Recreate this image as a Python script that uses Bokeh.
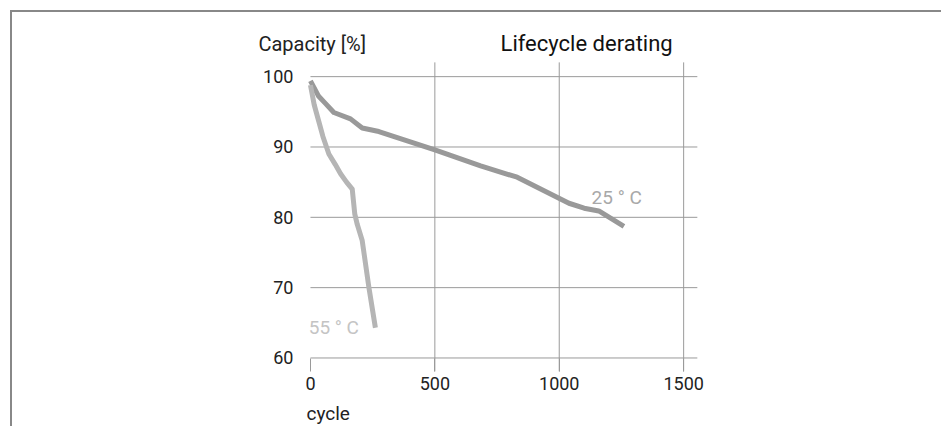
from bokeh.plotting import figure
from bokeh.models import Label, FixedTicker
from bokeh.embed import file_html
from bokeh.resources import INLINE

# ---- data ----
cycles_25 = [0, 33, 60, 94, 161, 208, 275, 500, 684, 831, 1039, 1100, 1159, 1260]
cap_25 = [99.4, 97.2, 96.2, 94.9, 94.0, 92.7, 92.2, 89.6, 87.3, 85.7, 82.0, 81.3, 80.9, 78.7]

cycles_55 = [0, 15, 33, 50, 74, 100, 121, 145, 168, 178, 188, 208, 235, 261]
cap_55 = [98.8, 96.0, 93.7, 91.5, 89.0, 87.5, 86.2, 85.0, 84.0, 80.5, 79.0, 76.7, 70.0, 64.3]

x_ticks = [0, 500, 1000, 1500]
x_grid = [500, 1000, 1500]
y_ticks = [60, 70, 80, 90, 100]

# plotting-area extents (data units)
GX0, GX1 = 0, 1555
GY0, GY1 = 58.09, 102.03

FONT = "Roboto"
GRID = "#9a9a9a"

p = figure(
    frame_width=463, frame_height=403,
    x_range=(-241, 1620), y_range=(50.4, 107.7),
    output_backend="svg", toolbar_location=None,
    min_border_left=238, min_border_top=10,
    min_border_right=228, min_border_bottom=1,
    background_fill_color=None, border_fill_color="white",
    outline_line_color=None,
)
p.margin = (10, 0, 0, 10)
p.styles = {"border-top": "2px solid #888888", "border-left": "2px solid #888888"}
p.grid.visible = False

# grid lines limited to the plotting area
p.segment(x0=x_grid, y0=[GY0] * len(x_grid), x1=x_grid, y1=[GY1] * len(x_grid),
          line_color=GRID, line_width=1)
p.segment(x0=[GX0] * len(y_ticks), y0=y_ticks, x1=[GX1] * len(y_ticks), y1=y_ticks,
          line_color=GRID, line_width=1)

# x axis at the bottom of the plotting area
p.xaxis.fixed_location = GY0
p.xaxis.ticker = FixedTicker(ticks=x_ticks)
p.xaxis.axis_line_color = None
p.xaxis.major_tick_in = 13
p.xaxis.major_tick_out = 0
p.xaxis.major_tick_line_color = GRID
p.xaxis.minor_tick_line_color = None
p.xaxis.major_label_standoff = 6
p.xaxis.major_label_text_font = FONT
p.xaxis.major_label_text_font_size = "18px"
p.xaxis.major_label_text_color = "#222222"

# y axis at x = 0
p.yaxis.fixed_location = GX0
p.yaxis.ticker = FixedTicker(ticks=y_ticks)
p.yaxis.axis_line_color = None
p.yaxis.major_tick_line_color = None
p.yaxis.minor_tick_line_color = None
p.yaxis.major_tick_in = 0
p.yaxis.major_tick_out = 0
p.yaxis.major_label_standoff = 17
p.yaxis.major_label_text_font = FONT
p.yaxis.major_label_text_font_size = "18px"
p.yaxis.major_label_text_color = "#222222"

# curves
p.line(cycles_25, cap_25, line_color="#999999", line_width=5, line_join="round")
p.line(cycles_55, cap_55, line_color="#b5b5b5", line_width=5, line_join="round")

# texts
def lab(x, y, text, size, color, **kw):
    p.add_layout(Label(x=x, y=y, text=text, text_font=FONT, text_font_size=size,
                       text_color=color, text_baseline="alphabetic", **kw))

lab(-209, 104.69, "Capacity [%]", "20px", "#222222")
lab(764, 104.69, "Lifecycle derating", "22px", "#111111")
lab(-16, 52.07, "cycle", "19px", "#222222")
lab(1130, 82.75, "25 ° C", "19px", "#a8a8a8")
lab(-7, 64.34, "55 ° C", "19px", "#c4c4c4")

open("out.html", "w").write(file_html(p, INLINE))
